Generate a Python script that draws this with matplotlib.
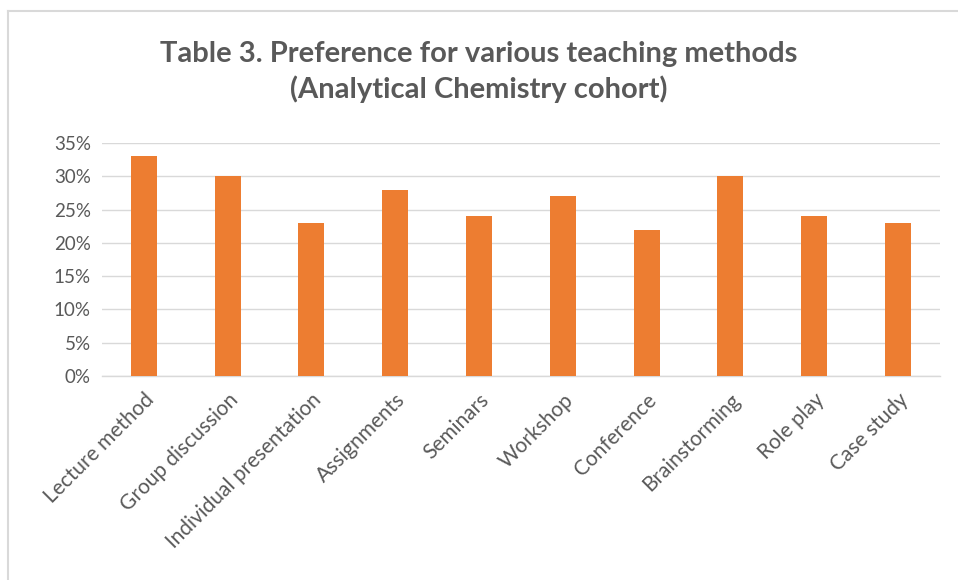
import matplotlib as mpl
import matplotlib.pyplot as plt
from matplotlib.ticker import PercentFormatter
from matplotlib.lines import Line2D

mpl.rcParams['font.family'] = ['Lato', 'DejaVu Sans']

# data
methods = ['Lecture method', 'Group discussion', 'Individual presentation',
           'Assignments', 'Seminars', 'Workshop', 'Conference',
           'Brainstorming', 'Role play', 'Case study']
prefs = [0.33, 0.30, 0.23, 0.28, 0.24, 0.27, 0.22, 0.30, 0.24, 0.23]
yticks = [0, 0.05, 0.10, 0.15, 0.20, 0.25, 0.30, 0.35]

text_col = '#595959'
grid_col = '#D9D9D9'
bar_col = '#ED7D31'

fig = plt.figure(figsize=(9.58, 5.8), dpi=100)
ax = fig.add_axes([0.1065, 0.3517, 0.8745, 0.4017])

x = range(len(methods))
ax.bar(x, prefs, width=0.31, color=bar_col, zorder=3)

ax.set_xlim(-0.5, len(methods) - 0.5)
ax.set_ylim(0, 0.35)
ax.set_yticks(yticks)
ax.yaxis.set_major_formatter(PercentFormatter(1.0, decimals=0))
ax.grid(axis='y', color=grid_col, linewidth=1.0, zorder=0)

for s in ['top', 'right', 'left']:
    ax.spines[s].set_visible(False)
ax.spines['bottom'].set_color(grid_col)
ax.spines['bottom'].set_linewidth(1.0)

ax.set_xticks(list(x))
ax.set_xticklabels(methods, rotation=45, ha='right', rotation_mode='anchor',
                   fontsize=15, color=text_col)
ax.tick_params(axis='x', length=0, pad=10)
ax.tick_params(axis='y', length=0, pad=8, labelsize=13.5, labelcolor=text_col)

fig.text(0.5, 0.876, 'Table 3. Preference for various teaching methods\n'
         '(Analytical Chemistry cohort)', ha='center', va='center',
         fontsize=21, fontweight='bold', color=text_col, linespacing=1.4)

# chart area border (top and left edges visible)
fig.add_artist(Line2D([0.0085, 1.0], [1 - 11 / 580, 1 - 11 / 580],
                      color='#D9D9D9', linewidth=1.5))
fig.add_artist(Line2D([0.0085, 0.0085], [0, 1 - 11 / 580],
                      color='#D9D9D9', linewidth=1.5))

fig.savefig('out.png', dpi=100)
